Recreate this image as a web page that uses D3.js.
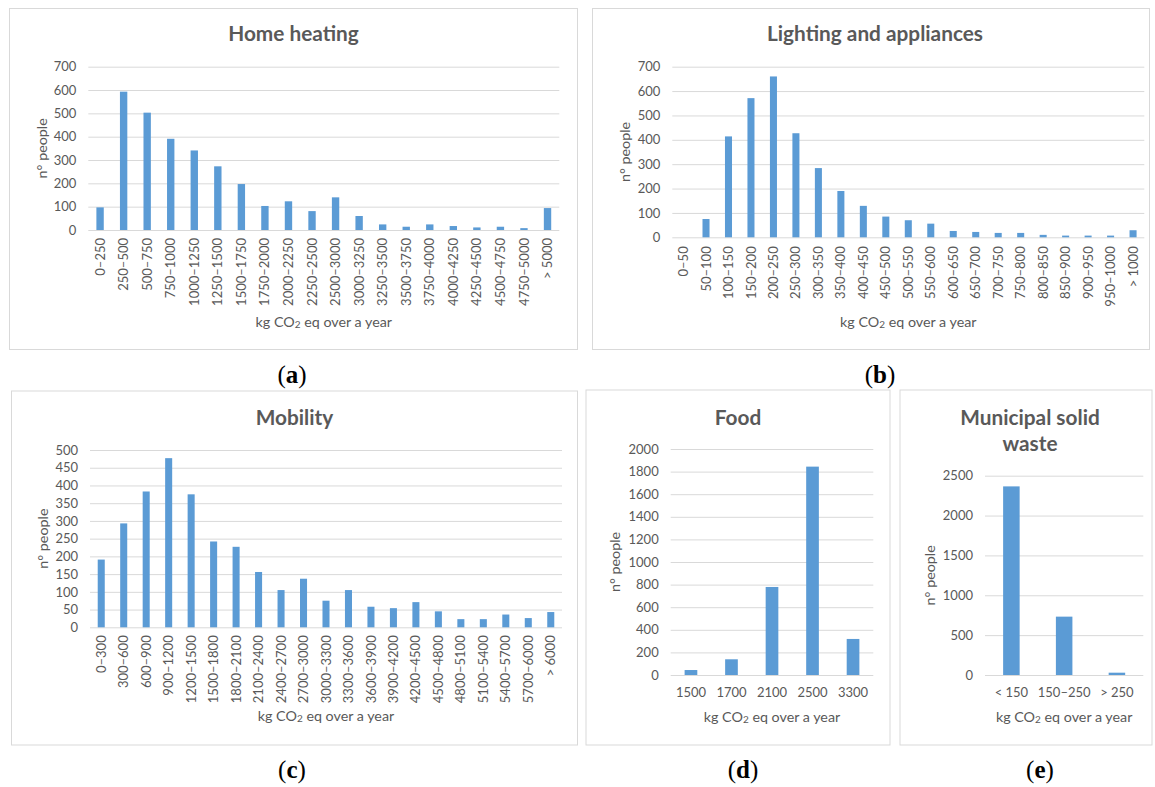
<!DOCTYPE html>
<html>
<head>
<meta charset="utf-8">
<script src="https://cdn.jsdelivr.net/npm/d3@7"></script>
<style>
  body { margin: 0; background: #fff; }
  svg text { font-family: Lato, 'Open Sans', sans-serif; fill: #595959; }
  .panelLetter { font-family: 'Liberation Serif', 'DejaVu Serif', serif; fill: #000 !important; }
</style>
</head>
<body>
<svg id="figure" width="1155" height="787"></svg>
<script>

// (a) Home heating
const heatingCats = ['0–250', '250–500', '500–750', '750–1000', '1000–1250', '1250–1500', '1500–1750',
  '1750–2000', '2000–2250', '2250–2500', '2500–3000', '3000–3250', '3250–3500', '3500–3750', '3750–4000',
  '4000–4250', '4250–4500', '4500–4750', '4750–5000', '> 5000'];
const heatingValues = [97, 593, 503, 391, 341, 273, 197, 103, 123, 81, 140, 60, 24, 14, 24, 17, 11, 14, 8, 94];
const heatingTicks = [0, 100, 200, 300, 400, 500, 600, 700];

// (b) Lighting and appliances
const lightingCats = ['0–50', '50–100', '100–150', '150–200', '200–250', '250–300', '300–350', '350–400',
  '400–450', '450–500', '500–550', '550–600', '600–650', '650–700', '700–750', '750–800', '800–850',
  '850–900', '900–950', '950–1000', '> 1000'];
const lightingValues = [0, 75, 414, 571, 660, 427, 284, 190, 129, 85, 70, 56, 26, 22, 18, 18, 10, 7, 7, 7, 29];
const lightingTicks = [0, 100, 200, 300, 400, 500, 600, 700];

// (c) Mobility
const mobilityCats = ['0–300', '300–600', '600–900', '900–1200', '1200–1500', '1500–1800', '1800–2100',
  '2100–2400', '2400–2700', '2700–3000', '3000–3300', '3300–3600', '3600–3900', '3900–4200', '4200–4500',
  '4500–4800', '4800–5100', '5100–5400', '5400–5700', '5700–6000', '> 6000'];
const mobilityValues = [191, 293, 383, 477, 375, 242, 227, 156, 105, 137, 75, 105, 58, 54, 71, 45, 23, 23, 36, 26, 43];
const mobilityTicks = [0, 50, 100, 150, 200, 250, 300, 350, 400, 450, 500];

// (d) Food
const foodCats = ['1500', '1700', '2100', '2500', '3300'];
const foodValues = [44, 139, 779, 1844, 319];
const foodTicks = [0, 200, 400, 600, 800, 1000, 1200, 1400, 1600, 1800, 2000];

// (e) Municipal solid waste
const wasteCats = ['< 150', '150–250', '> 250'];
const wasteValues = [2366, 732, 29];
const wasteTicks = [0, 500, 1000, 1500, 2000, 2500];

Histogram = {

  barColor: '#5b9bd5',
  gridColor: '#d9d9d9',
  boxColor: '#d9d9d9',
  gap: 0.687,

  load: function(p) {
    this.p = p;
    this.g = d3.select('#figure').append('g');
    this.drawBox();
    this.createScales();
    this.drawYAxis();
    this.drawXAxis();
    this.drawBars();
    this.drawTitles();
    this.drawLetter();
  },

  drawBox: function() {
    const b = this.p.box;
    this.g.append('rect')
      .attr('x', b.x).attr('y', b.y)
      .attr('width', b.w).attr('height', b.h)
      .attr('fill', '#fff')
      .attr('stroke', this.boxColor)
  },

  createScales: function() {
    const p = this.p;
    this.x = d3.scaleBand().domain(p.cats).range([p.plot.left, p.plot.right])
      .paddingInner(this.gap)
      .paddingOuter(this.gap / 2);
    this.y = d3.scaleLinear().domain([0, d3.max(p.ticks)]).range([p.plot.bottom, p.plot.top]);
  },

  drawYAxis: function() {
    const p = this.p;
    const axis = d3.axisLeft(this.y)
      .tickValues(p.ticks)
      .tickFormat(d3.format('d'))
      .tickSize(-(p.plot.right - p.plot.left))
      .tickPadding(12);
    const ag = this.g.append('g')
      .attr('transform', `translate(${p.plot.left}, 0)`)
      .call(axis);
    ag.select('.domain').remove();
    ag.selectAll('.tick line').attr('stroke', this.gridColor);
    ag.selectAll('.tick text')
      .style('font-size', '13px')
      .style('font-family', 'Lato, sans-serif')
      .attr('fill', '#595959');
  },

  drawXAxis: function() {
    const p = this.p;
    const axis = d3.axisBottom(this.x).tickSize(0).tickPadding(0);
    const ag = this.g.append('g')
      .attr('transform', `translate(0, ${p.plot.bottom})`)
      .call(axis);
    ag.select('.domain').remove();
    const texts = ag.selectAll('.tick text')
      .style('font-size', '13px')
      .style('font-family', 'Lato, sans-serif')
      .attr('fill', '#595959');
    if (p.rotate) {
      texts.attr('transform', 'rotate(-90)')
        .attr('text-anchor', 'end')
        .attr('x', -p.labelGap)
        .attr('y', 0)
        .attr('dy', '0.35em');
    } else {
      texts.attr('y', p.labelGap).attr('dy', '0.71em');
    }
  },

  drawBars: function() {
    const p = this.p;
    this.g.selectAll('rect.bar')
      .data(p.values)
      .enter()
      .append('rect')
      .attr('class', 'bar')
      .attr('x', (d, i) => this.x(p.cats[i]))
      .attr('width', this.x.bandwidth())
      .attr('y', (d) => this.y(d))
      .attr('height', (d) => this.y(0) - this.y(d))
      .attr('fill', this.barColor)
  },

  drawTitles: function() {
    const p = this.p;
    const b = p.box;
    p.title.forEach((line, i) => {
      this.g.append('text')
        .attr('x', b.x + b.w / 2 + (p.titleShift || 0))
        .attr('y', p.titleY + i * 26.5)
        .attr('text-anchor', 'middle')
        .style('font-size', '20.8px')
        .style('font-weight', 'bold')
        .text(line)
    });

    // x axis title with subscript 2
    const t = this.g.append('text')
      .attr('x', (p.plot.left + p.plot.right) / 2)
      .attr('y', p.xTitleY)
      .attr('text-anchor', 'middle')
      .style('font-size', '14.3px');
    t.append('tspan').text('kg CO');
    t.append('tspan').text('2').style('font-size', '10px').attr('dy', 1);
    t.append('tspan').text(' eq over a year').attr('dy', -1);

    this.g.append('text')
      .attr('transform', `translate(${p.yTitleX}, ${(p.plot.top + p.plot.bottom) / 2}) rotate(-90)`)
      .attr('text-anchor', 'middle')
      .attr('dy', '0.35em')
      .style('font-size', '14.3px')
      .text('n° people')
  },

  drawLetter: function() {
    const p = this.p;
    const t = this.g.append('text')
      .attr('class', 'panelLetter')
      .attr('x', p.letterX)
      .attr('y', p.letterY)
      .attr('text-anchor', 'middle')
      .style('font-size', '25px');
    t.append('tspan').text('(');
    t.append('tspan').text(p.letter).style('font-weight', 'bold');
    t.append('tspan').text(')');
  },

}

const panels = [
  { cats: heatingCats, values: heatingValues, ticks: heatingTicks, title: ['Home heating'], letter: 'a',
    box: {x: 9.5, y: 8.5, w: 568, h: 341}, plot: {left: 88.3, right: 559.3, top: 66.7, bottom: 230},
    rotate: true, labelGap: 8, titleY: 41, xTitleY: 327, yTitleX: 42, letterX: 292, letterY: 383 },
  { cats: lightingCats, values: lightingValues, ticks: lightingTicks, title: ['Lighting and appliances'], letter: 'b',
    box: {x: 592.5, y: 8.5, w: 557, h: 341}, plot: {left: 672.3, right: 1144.3, top: 66.7, bottom: 237.3},
    rotate: true, labelGap: 9, titleY: 41, xTitleY: 327, yTitleX: 624.5, letterX: 880, letterY: 383, titleShift: 4 },
  { cats: mobilityCats, values: mobilityValues, ticks: mobilityTicks, title: ['Mobility'], letter: 'c',
    box: {x: 11.5, y: 391, w: 566, h: 354}, plot: {left: 90, right: 562, top: 450, bottom: 627.3},
    rotate: true, labelGap: 8, titleY: 424.5, xTitleY: 721, yTitleX: 43, letterX: 292, letterY: 778 },
  { cats: foodCats, values: foodValues, ticks: foodTicks, title: ['Food'], letter: 'd',
    box: {x: 586, y: 390, w: 304, h: 355}, plot: {left: 670.7, right: 873.3, top: 449, bottom: 675},
    rotate: false, labelGap: 13, titleY: 424.5, xTitleY: 722, yTitleX: 615, letterX: 743, letterY: 778 },
  { cats: wasteCats, values: wasteValues, ticks: wasteTicks, title: ['Municipal solid', 'waste'], letter: 'e',
    box: {x: 900, y: 390, w: 252, h: 355}, plot: {left: 985, right: 1143.3, top: 475.7, bottom: 675},
    rotate: false, labelGap: 13, titleY: 424.5, xTitleY: 722, yTitleX: 930, letterX: 1040, letterY: 778, titleShift: 4 },
];

panels.forEach((p) => Histogram.load(p));

</script>
</body>
</html>
